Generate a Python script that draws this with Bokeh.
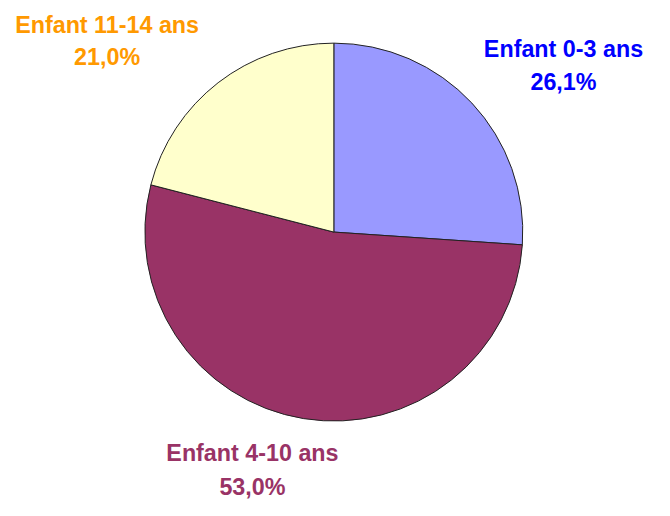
import math
from bokeh.plotting import figure
from bokeh.models import Range1d, ColumnDataSource
from bokeh.core.properties import value
from bokeh.embed import file_html
from bokeh.resources import INLINE

categories = ["Enfant 0-3 ans", "Enfant 4-10 ans", "Enfant 11-14 ans"]
shares = [26.1, 53.0, 21.0]
fill_colors = ["#9999FF", "#993366", "#FFFFCC"]
label_colors = ["#0000FF", "#993366", "#FF9900"]

W, H = 654, 500
S = H / 516.0  # uniform scale from reference pixels to figure pixels
p = figure(width=W, height=H, output_backend="svg", toolbar_location=None,
           x_range=Range1d(0, W / S), y_range=Range1d(0, 516),
           min_border=0, outline_line_color=None)
p.axis.visible = False
p.grid.visible = False
p.background_fill_color = "white"
p.border_fill_color = "white"

# data units = reference pixels; y = 516 - sy
cx, cy, r = 344, 516 - 239, 195
total = sum(shares)
starts, ends = [], []
a = 90.0
for s in shares:
    starts.append(math.radians(a))
    a -= s / total * 360.0
    ends.append(math.radians(a))
src = ColumnDataSource(dict(start=starts, end=ends, color=fill_colors, cat=categories))
p.wedge(x=cx, y=cy, radius=r, start_angle="start", end_angle="end", direction="clock",
        fill_color="color", line_color="#222222", line_width=1, source=src)

# label positions (reference coords): (center x, middle line1, middle line2)
pos = [(581, 50, 84), (260, 467, 502), (110, 25, 58)]
fs = f"{24 * S:.1f}px"
for cat, s, col, (lx, m1, m2) in zip(categories, shares, label_colors, pos):
    pct = f"{s:.1f}".replace(".", ",") + "%"
    p.text(x=[lx, lx], y=[516 - m1, 516 - m2], text=[cat, pct],
           text_color=col, text_font=value("Liberation Sans"), text_font_style="bold",
           text_font_size=fs, text_align="center", text_baseline="middle")

open("out.html", "w").write(file_html(p, INLINE))
